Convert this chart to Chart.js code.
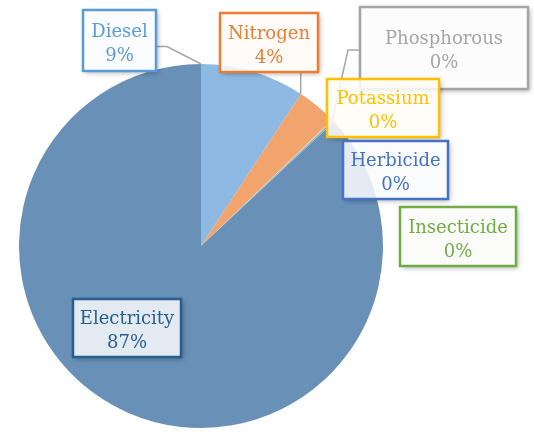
<!DOCTYPE html>
<html>
<head>
<meta charset="utf-8">
<script src="https://cdn.jsdelivr.net/npm/chart.js@4/dist/chart.umd.min.js"></script>
<style>
  html, body { margin: 0; padding: 0; background: #ffffff; overflow: hidden; }
  #wrap { width: 534px; height: 432px; position: relative; }
</style>
</head>
<body>
<div id="wrap"><canvas id="c" width="534" height="432"></canvas></div>
<script>
// ---- data ----
const categories = ["Diesel", "Nitrogen", "Phosphorous", "Potassium", "Herbicide", "Insecticide", "Electricity"];
const shares = [9.25, 3.55, 0.05, 0.05, 0.1, 0.05, 86.95];
const sliceColors = ["#8db9e2", "#f1a46c", "#c8c8c8", "#ffd45c", "#7f9fd8", "#9cc77e", "#6990b7"];
const labelColors = ["#5b9bd5", "#ed7d31", "#a5a5a5", "#ffc000", "#4472c4", "#70ad47", "#255e91"];

// ---- label layout (box rectangles: x1,y1,x2,y2) ----
const labelBoxes = [
  [83, 10, 156, 71],
  [220, 13, 318, 72],
  [360, 7, 528, 89],
  [327, 79, 439, 137],
  [343, 141, 448, 199],
  [400, 207, 516, 266],
  [73, 299, 181, 357]
];
// leader polylines (pixel elbows), ending on the pie edge at a slice angle
const leaders = [
  { idx: 0, pts: [[156, 46.5], [167, 46.5]], at: "start", vertical: false },
  { idx: 1, pts: [[300.7, 72.5]], at: "start", vertical: true },
  { idx: 2, pts: [[360, 50], [348, 50]], at: "mid", vertical: false }
];

function hexToRgba(hex, a) {
  const n = parseInt(hex.slice(1), 16);
  return `rgba(${(n >> 16) & 255},${(n >> 8) & 255},${n & 255},${a})`;
}

const total = shares.reduce((a, b) => a + b, 0);

const labelPlugin = {
  id: "boxLabels",
  afterDatasetsDraw(chart) {
    const ctx = chart.ctx;
    const meta = chart.getDatasetMeta(0);
    ctx.save();
    // leader lines
    ctx.strokeStyle = "#a6a6a6";
    ctx.lineWidth = 1.5;
    leaders.forEach(l => {
      const arc = meta.data[l.idx];
      const p = arc.getProps(["x", "y", "startAngle", "endAngle", "outerRadius"], true);
      const a = l.at === "start" ? p.startAngle : (p.startAngle + p.endAngle) / 2;
      const ex = p.x + p.outerRadius * Math.cos(a);
      const ey = p.y + p.outerRadius * Math.sin(a);
      ctx.beginPath();
      ctx.moveTo(l.pts[0][0], l.pts[0][1]);
      for (let i = 1; i < l.pts.length; i++) ctx.lineTo(l.pts[i][0], l.pts[i][1]);
      if (l.vertical) ctx.lineTo(l.pts[0][0], ey);
      else ctx.lineTo(ex, ey);
      ctx.stroke();
    });
    // boxes
    const W = chart.width, H = chart.height;
    categories.forEach((name, i) => {
      const [x1, y1, x2, y2] = labelBoxes[i];
      const w = x2 - x1, h = y2 - y1;
      const col = labelColors[i];
      // soft shadow outside the box only
      ctx.save();
      ctx.beginPath();
      ctx.rect(0, 0, W, H);
      ctx.rect(x1, y1, w, h);
      ctx.clip("evenodd");
      ctx.shadowColor = "rgba(0,0,0,0.30)";
      ctx.shadowBlur = 5;
      ctx.shadowOffsetX = 2;
      ctx.shadowOffsetY = 2;
      ctx.fillStyle = "#ffffff";
      ctx.fillRect(x1, y1, w, h);
      ctx.restore();
      // translucent fill
      ctx.fillStyle = "rgba(255,255,255,0.86)";
      ctx.fillRect(x1, y1, w, h);
      ctx.fillStyle = hexToRgba(col, 0.03);
      ctx.fillRect(x1, y1, w, h);
      ctx.strokeStyle = col;
      ctx.lineWidth = 2.5;
      ctx.strokeRect(x1, y1, w, h);
      ctx.fillStyle = col;
      ctx.font = "18px 'DejaVu Serif'";
      ctx.textAlign = "center";
      ctx.textBaseline = "alphabetic";
      const cx = (x1 + x2) / 2, cy = (y1 + y2) / 2;
      const pct = Math.round(shares[i] / total * 100) + "%";
      ctx.fillText(name, cx, cy - 4);
      ctx.fillText(pct, cx, cy + 20);
    });
    ctx.restore();
  }
};

new Chart(document.getElementById("c"), {
  type: "pie",
  data: {
    labels: categories,
    datasets: [{
      data: shares,
      backgroundColor: sliceColors,
      borderWidth: 0
    }]
  },
  options: {
    responsive: false,
    animation: false,
    layout: { padding: { left: 19, top: 64, right: 151, bottom: 4 } },
    plugins: { legend: { display: false }, tooltip: { enabled: false } }
  },
  plugins: [labelPlugin]
});
</script>
</body>
</html>
